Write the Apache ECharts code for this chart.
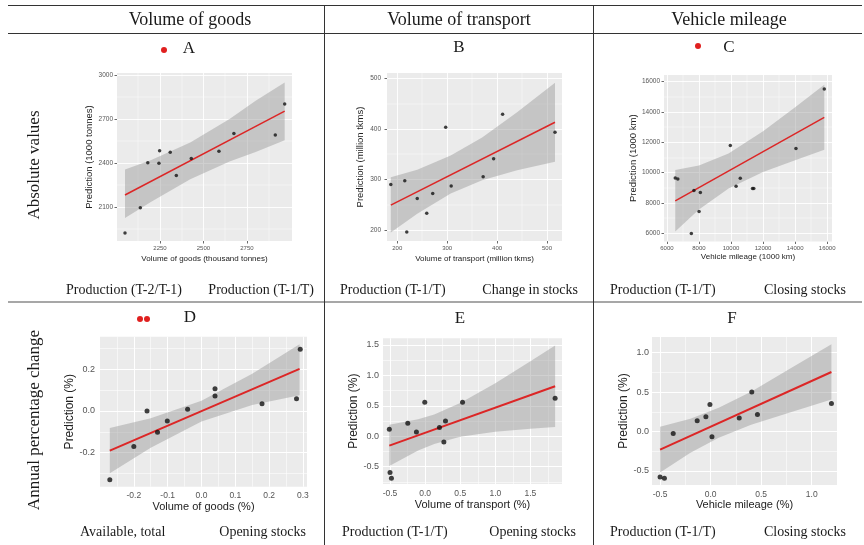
<!DOCTYPE html>
<html><head><meta charset="utf-8">
<script src="https://cdn.jsdelivr.net/npm/echarts@6/dist/echarts.min.js"></script>
<style>html,body{margin:0;padding:0;background:#fff}#c{width:864px;height:545px}</style>
</head><body><div id="c"></div>
<script>
// ---------------- DATA ----------------
const colHeaders = ['Volume of goods', 'Volume of transport', 'Vehicle mileage'];
const rowHeaders = ['Absolute values', 'Annual percentage change'];
const panelLetters = ['A', 'B', 'C', 'D', 'E', 'F'];
const footRow1 = ['Production (T-2/T-1)', 'Production (T-1/T)', 'Production (T-1/T)', 'Change in stocks', 'Production (T-1/T)', 'Closing stocks'];
const footRow2 = ['Available, total', 'Opening stocks', 'Production (T-1/T)', 'Opening stocks', 'Production (T-1/T)', 'Closing stocks'];

const xNames = ['Volume of goods (thousand tonnes)', 'Volume of transport (million tkms)', 'Vehicle mileage (1000 km)',
                'Volume of goods (%)', 'Volume of transport (%)', 'Vehicle mileage (%)'];
const yNames = ['Prediction (1000 tonnes)', 'Prediction (million tkms)', 'Prediction (1000 km)',
                'Prediction (%)', 'Prediction (%)', 'Prediction (%)'];

// Panel A
const aX = [2049, 2137, 2180, 2244, 2248, 2309, 2344, 2430, 2589, 2675, 2913, 2967];
const aY = [1923, 2095, 2402, 2398, 2484, 2473, 2314, 2430, 2480, 2602, 2591, 2802];
const aLineX = [2049, 2967];
const aLineY = [2182, 2754];
const aBandX = [2049, 2200, 2424, 2650, 2800, 2967];
const aBandLo = [2025, 2135, 2290, 2410, 2475, 2555];
const aBandHi = [2355, 2420, 2540, 2700, 2825, 2950];
const aXTicks = [2250, 2500, 2750];
const aYTicks = [2100, 2400, 2700, 3000];
const aXMinor = [2125, 2375, 2625, 2875];
const aYMinor = [1950, 2250, 2550, 2850];

// Panel B
const bX = [187, 215, 219, 240, 259, 271, 297, 308, 372, 393, 411, 516];
const bY = [290, 297, 196, 262, 233, 272, 403, 287, 305, 341, 429, 393];
const bLineX = [187, 516];
const bLineY = [249, 413];
const bBandX = [187, 240, 307, 370, 440, 516];
const bBandLo = [195, 232, 272, 298, 318, 335];
const bBandHi = [304, 319, 347, 383, 433, 491];
const bXTicks = [200, 300, 400, 500];
const bYTicks = [200, 300, 400, 500];
const bXMinor = [250, 350, 450];
const bYMinor = [250, 350, 450];

// Panel C
const cX = [6522, 6683, 7526, 7687, 8008, 8088, 9956, 10317, 10578, 11341, 11422, 14052, 15819];
const cY = [9649, 9583, 5980, 8813, 7429, 8682, 11781, 9099, 9627, 8945, 8945, 11583, 15517];
const cLineX = [6522, 15819];
const cLineY = [8132, 13649];
const cBandX = [6522, 8000, 9846, 12000, 14000, 15819];
const cBandLo = [6102, 7559, 8954, 10032, 10819, 11499];
const cBandHi = [10162, 10459, 11254, 12732, 14319, 15799];
const cXTicks = [6000, 8000, 10000, 12000, 14000, 16000];
const cYTicks = [6000, 8000, 10000, 12000, 14000, 16000];
const cXMinor = [7000, 9000, 11000, 13000, 15000];
const cYMinor = [7000, 9000, 11000, 13000, 15000];

// Panel D
const dX = [-0.271, -0.2, -0.161, -0.13, -0.101, -0.041, 0.04, 0.04, 0.179, 0.281, 0.292];
const dY = [-0.33, -0.17, 0.0, -0.102, -0.048, 0.008, 0.107, 0.072, 0.035, 0.058, 0.296];
const dLineX = [-0.271, 0.29];
const dLineY = [-0.19, 0.2016];
const dBandX = [-0.271, -0.15, 0.0, 0.15, 0.29];
const dBandLo = [-0.298, -0.176, -0.051, 0.029, 0.075];
const dBandHi = [-0.082, -0.035, 0.049, 0.179, 0.32];
const dXTicks = [-0.2, -0.1, 0.0, 0.1, 0.2, 0.3];
const dYTicks = [-0.2, 0.0, 0.2];
const dXMinor = [-0.25, -0.15, -0.05, 0.05, 0.15, 0.25];
const dYMinor = [-0.3, -0.1, 0.1, 0.3];

// Panel E
const eX = [-0.51, -0.5, -0.48, -0.247, -0.124, -0.005, 0.204, 0.267, 0.29, 0.533, 1.852];
const eY = [0.115, -0.595, -0.69, 0.213, 0.07, 0.557, 0.143, -0.093, 0.25, 0.557, 0.625];
const eLineX = [-0.51, 1.852];
const eLineY = [-0.155, 0.822];
const eBandX = [-0.51, -0.1, 0.13, 0.5, 1.0, 1.5, 1.852];
const eBandLo = [-0.49, -0.235, -0.127, -0.010, 0.074, 0.124, 0.151];
const eBandHi = [0.19, 0.279, 0.359, 0.546, 0.872, 1.232, 1.493];
const eXTicks = [-0.5, 0.0, 0.5, 1.0, 1.5];
const eYTicks = [-0.5, 0.0, 0.5, 1.0, 1.5];
const eXMinor = [-0.25, 0.25, 0.75, 1.25, 1.75];
const eYMinor = [-0.75, -0.25, 0.25, 0.75, 1.25];

// Panel F
const fX = [-0.5, -0.457, -0.37, -0.133, -0.047, -0.007, 0.013, 0.283, 0.407, 0.463, 1.195];
const fY = [-0.577, -0.594, -0.026, 0.137, 0.188, 0.342, -0.068, 0.171, 0.5, 0.214, 0.356];
const fLineX = [-0.5, 1.195];
const fLineY = [-0.23, 0.755];
const fBandX = [-0.5, -0.2, 0.08, 0.4, 0.8, 1.195];
const fBandLo = [-0.52, -0.27, -0.08, 0.085, 0.248, 0.405];
const fBandHi = [0.06, 0.16, 0.30, 0.505, 0.808, 1.108];
const fXTicks = [-0.5, 0.0, 0.5, 1.0];
const fYTicks = [-0.5, 0.0, 0.5, 1.0];
const fXMinor = [-0.25, 0.25, 0.75];
const fYMinor = [-0.25, 0.25, 0.75];

// ---------------- LAYOUT / STYLE ----------------
const panelData = [
  {x: aX, y: aY, lx: aLineX, ly: aLineY, bx: aBandX, lo: aBandLo, hi: aBandHi, xt: aXTicks, yt: aYTicks, xm: aXMinor, ym: aYMinor, dec: 0},
  {x: bX, y: bY, lx: bLineX, ly: bLineY, bx: bBandX, lo: bBandLo, hi: bBandHi, xt: bXTicks, yt: bYTicks, xm: bXMinor, ym: bYMinor, dec: 0},
  {x: cX, y: cY, lx: cLineX, ly: cLineY, bx: cBandX, lo: cBandLo, hi: cBandHi, xt: cXTicks, yt: cYTicks, xm: cXMinor, ym: cYMinor, dec: 0},
  {x: dX, y: dY, lx: dLineX, ly: dLineY, bx: dBandX, lo: dBandLo, hi: dBandHi, xt: dXTicks, yt: dYTicks, xm: dXMinor, ym: dYMinor, dec: 1},
  {x: eX, y: eY, lx: eLineX, ly: eLineY, bx: eBandX, lo: eBandLo, hi: eBandHi, xt: eXTicks, yt: eYTicks, xm: eXMinor, ym: eYMinor, dec: 1},
  {x: fX, y: fY, lx: fLineX, ly: fLineY, bx: fBandX, lo: fBandLo, hi: fBandHi, xt: fXTicks, yt: fYTicks, xm: fXMinor, ym: fYMinor, dec: 1}
];

const layout = [
  {grid: {left: 117, top: 73, width: 175, height: 168}, xr: [2003, 3009], yr: [1868, 3014], xGap: 14, yGap: 20, xMar: 4, yMar: 4, top: true},
  {grid: {left: 387, top: 73, width: 175, height: 168}, xr: [179.4, 530], yr: [178, 510.5], xGap: 14, yGap: 22, xMar: 4, yMar: 6, top: true},
  {grid: {left: 664, top: 75, width: 168, height: 166.5}, xr: [5820, 16300], yr: [5450, 16440], xGap: 11, yGap: 24, xMar: 4, yMar: 4, top: true},
  {grid: {left: 100, top: 336.7, width: 207, height: 150}, xr: [-0.3, 0.312], yr: [-0.363, 0.356], xGap: 14, yGap: 21, xMar: 4.5, yMar: 5, top: false},
  {grid: {left: 383, top: 338.3, width: 179, height: 145.7}, xr: [-0.6, 1.95], yr: [-0.785, 1.61], xGap: 15, yGap: 21, xMar: 5, yMar: 4, top: false},
  {grid: {left: 652, top: 337, width: 185, height: 148}, xr: [-0.58, 1.25], yr: [-0.68, 1.2], xGap: 14.5, yGap: 19, xMar: 5, yMar: 3, top: false}
];

const SANS = '"Liberation Sans", Arial, sans-serif';
const SERIF = '"Liberation Serif", "DejaVu Serif", serif';
const RED = '#dc2626';

const grids = [], xAxes = [], yAxes = [], series = [];
panelData.forEach((p, i) => {
  const L = layout[i];
  const fmt = v => p.dec ? Number(v).toFixed(1) : String(v);
  const tickFs = L.top ? 6 : 8.5;
  const tickFsY = L.top ? 6.5 : 9;
  grids.push(Object.assign({show: true, backgroundColor: '#EBEBEB', borderWidth: 0}, L.grid));
  xAxes.push({
    type: 'value', gridIndex: i, min: L.xr[0], max: L.xr[1],
    name: xNames[i], nameLocation: 'middle', nameGap: L.xGap,
    nameTextStyle: {fontFamily: SANS, fontSize: L.top ? 8 : 11, color: '#222'},
    axisLine: {show: false},
    axisTick: {show: true, length: 2.5, customValues: p.xt, lineStyle: {color: '#444', width: 0.8}},
    axisLabel: {customValues: p.xt, formatter: fmt, margin: L.xMar, fontFamily: SANS, fontSize: tickFs, color: '#555'},
    splitLine: {show: false}
  });
  yAxes.push({
    type: 'value', gridIndex: i, min: L.yr[0], max: L.yr[1],
    name: yNames[i], nameLocation: 'middle', nameGap: L.yGap, nameRotate: 90,
    nameTextStyle: {fontFamily: SANS, fontSize: L.top ? 9.5 : 12, color: '#222'},
    axisLine: {show: false},
    axisTick: {show: true, length: 2.5, customValues: p.yt, lineStyle: {color: '#444', width: 0.8}},
    axisLabel: {customValues: p.yt, formatter: fmt, margin: L.yMar, fontFamily: SANS, fontSize: tickFsY, color: '#555'},
    splitLine: {show: false}
  });
  const majW = L.top ? 0.9 : 1.1, minW = L.top ? 0.45 : 0.55;
  const mlData = [].concat(
    p.xt.map(v => ({xAxis: v, lineStyle: {width: majW}})),
    p.xm.map(v => ({xAxis: v, lineStyle: {width: minW}})),
    p.yt.map(v => ({yAxis: v, lineStyle: {width: majW}})),
    p.ym.map(v => ({yAxis: v, lineStyle: {width: minW}}))
  );
  // panel gridlines
  series.push({
    type: 'line', xAxisIndex: i, yAxisIndex: i, data: [], silent: true, z: 1,
    markLine: {silent: true, z: 1, symbol: ['none', 'none'], animation: false, label: {show: false},
      lineStyle: {color: '#ffffff', type: 'solid'}, emphasis: {disabled: true}, data: mlData}
  });
  // confidence band
  const bx = p.bx, lo = p.lo, hi = p.hi;
  series.push({
    type: 'custom', xAxisIndex: i, yAxisIndex: i, z: 2, silent: true, clip: true,
    data: [[bx[0], lo[0]]],
    renderItem: function (params, api) {
      const pts = [];
      for (let k = 0; k < bx.length; k++) pts.push(api.coord([bx[k], hi[k]]));
      for (let k = bx.length - 1; k >= 0; k--) pts.push(api.coord([bx[k], lo[k]]));
      return {type: 'polygon', shape: {points: pts}, style: {fill: 'rgba(150,150,150,0.45)'}};
    }
  });
  // fitted line
  series.push({
    type: 'line', xAxisIndex: i, yAxisIndex: i, z: 3, silent: true, symbol: 'none',
    data: p.lx.map((v, k) => [v, p.ly[k]]),
    lineStyle: {color: RED, width: L.top ? 1.5 : 2}
  });
  // observations
  series.push({
    type: 'scatter', xAxisIndex: i, yAxisIndex: i, z: 4, silent: true,
    symbolSize: L.top ? 3.5 : 5,
    itemStyle: {color: '#111'},
    data: p.x.map((v, k) => [v, p.y[k]])
  });
});

// table frame and texts
const G = [];
const hline = (y, c, w) => G.push({type: 'line', shape: {x1: 8, y1: y, x2: 862, y2: y}, style: {stroke: c, lineWidth: w}, silent: true});
const vline = (x) => G.push({type: 'line', shape: {x1: x, y1: 5, x2: x, y2: 545}, style: {stroke: '#333', lineWidth: 1}, silent: true});
hline(5.5, '#333', 1);
hline(33.5, '#333', 1);
hline(302, '#8a8a8a', 1.6);
vline(324.5);
vline(593.5);
const txt = (s, x, y, fs, align, rot) => G.push({
  type: 'text', x: x, y: y, rotation: rot || 0, silent: true,
  style: {text: s, font: fs + 'px ' + SERIF, fill: '#1a1a1a', textAlign: align || 'center', textVerticalAlign: 'middle'}
});
const headerX = [190, 459, 729];
colHeaders.forEach((s, i) => txt(s, headerX[i], 20, 18));
txt(rowHeaders[0], 35, 165, 17, 'center', Math.PI / 2);
txt(rowHeaders[1], 35, 420, 17, 'center', Math.PI / 2);
const letterPos = [[189, 49], [459, 48], [729, 48], [190, 318], [460, 319], [732, 319]];
panelLetters.forEach((s, i) => txt(s, letterPos[i][0], letterPos[i][1], 17));
const dots = [[164, 50], [698, 46], [140, 319], [147, 319]];
dots.forEach(d => G.push({type: 'circle', shape: {cx: d[0], cy: d[1], r: 3}, style: {fill: '#e0201f'}, silent: true}));
const footPos = [[66, 'left'], [314, 'right'], [340, 'left'], [578, 'right'], [610, 'left'], [846, 'right']];
const footPos2 = [[80, 'left'], [306, 'right'], [342, 'left'], [576, 'right'], [610, 'left'], [846, 'right']];
footRow1.forEach((s, i) => txt(s, footPos[i][0], 290, 14, footPos[i][1]));
footRow2.forEach((s, i) => txt(s, footPos2[i][0], 532, 14, footPos2[i][1]));

const chart = echarts.init(document.getElementById('c'), null, {renderer: 'canvas'});
chart.setOption({
  backgroundColor: '#ffffff',
  animation: false,
  grid: grids, xAxis: xAxes, yAxis: yAxes, series: series,
  graphic: {elements: G}
});
</script></body></html>
